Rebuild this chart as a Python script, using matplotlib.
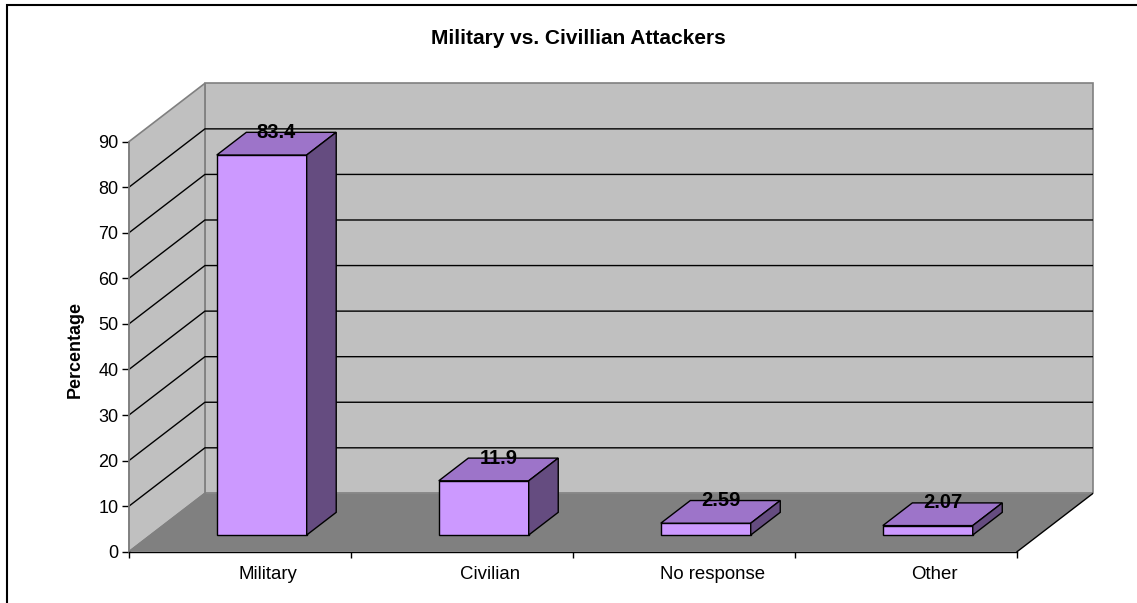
import matplotlib.pyplot as plt
from matplotlib.patches import Polygon, Rectangle

plt.rcParams['font.family'] = ['Liberation Sans', 'DejaVu Sans']

categories = ['Military', 'Civilian', 'No response', 'Other']
values = [83.4, 11.9, 2.59, 2.07]
value_labels = ['83.4', '11.9', '2.59', '2.07']
y_ticks = [0, 10, 20, 30, 40, 50, 60, 70, 80, 90]

# oblique depth of the 3-D box, in data units
DX = 0.342
DY = 12.8
YMAX = 90
BAR_W = 0.405
Z0, Z1 = 0.286, 0.675

FRONT = '#CC99FF'
TOP = '#9D74C9'
SIDE = '#654C80'
WALL = '#C0C0C0'
FLOOR = '#808080'
EDGE = '#808080'

W, H = 1137, 603
fig = plt.figure(figsize=(W / 100, H / 100), dpi=100)
ax = fig.add_axes([129 / W, (H - 551.7) / H, 964 / W, 468.4 / H])
ax.set_xlim(0, len(categories) + DX)
ax.set_ylim(0, YMAX + DY)
ax.patch.set_visible(False)

n = len(categories)


def poly(pts, fc, ec='none', lw=1.0, z=1):
    ax.add_patch(Polygon(pts, closed=True, facecolor=fc, edgecolor=ec,
                         linewidth=lw, zorder=z, clip_on=False))


# walls and floor
poly([(DX, DY), (n + DX, DY), (n + DX, YMAX + DY), (DX, YMAX + DY)], WALL, EDGE, 1.2, 1)
poly([(0, 0), (DX, DY), (DX, YMAX + DY), (0, YMAX)], WALL, EDGE, 1.2, 1)
for v in y_ticks[1:-1]:
    ax.plot([0, DX, n + DX], [v, v + DY, v + DY], color='black', lw=1.0, zorder=2)
poly([(0, 0), (n, 0), (n + DX, DY), (DX, DY)], FLOOR, 'none', 1, 3)
ax.plot([0, DX], [0, DY], color=EDGE, lw=1.2, zorder=3)
ax.plot([n, n + DX], [0, DY], color='black', lw=1.0, zorder=3)

# bars
for i, v in enumerate(values):
    x0 = i + 0.5 - BAR_W / 2
    x1 = i + 0.5 + BAR_W / 2
    a0, b0 = Z0 * DX, Z0 * DY
    a1, b1 = Z1 * DX, Z1 * DY
    poly([(x0 + a0, b0), (x1 + a0, b0), (x1 + a0, v + b0), (x0 + a0, v + b0)],
         FRONT, 'black', 1.0, 4)
    poly([(x0 + a0, v + b0), (x1 + a0, v + b0), (x1 + a1, v + b1), (x0 + a1, v + b1)],
         TOP, 'black', 1.0, 4)
    poly([(x1 + a0, b0), (x1 + a1, b1), (x1 + a1, v + b1), (x1 + a0, v + b0)],
         SIDE, 'black', 1.0, 4)
    ax.text(i + 0.5 + (Z0 + Z1) / 2 * DX, v + b1, value_labels[i],
            ha='center', va='center', fontsize=14.5, fontweight='bold', zorder=6)

# axes
for s in ['top', 'right']:
    ax.spines[s].set_visible(False)
ax.spines['left'].set_bounds(0, YMAX)
ax.spines['left'].set_color(EDGE)
ax.spines['left'].set_linewidth(1.2)
ax.spines['bottom'].set_bounds(0, n)
ax.spines['bottom'].set_linewidth(1.0)
ax.spines['left'].set_zorder(5)
ax.spines['bottom'].set_zorder(5)

ax.set_yticks(y_ticks)
ax.tick_params(axis='y', length=5, width=1, color='black', pad=2.5, labelsize=13)
ax.set_xticks(range(n + 1))
ax.set_xticklabels([])
ax.tick_params(axis='x', which='major', length=4.5, width=1, color='black', direction='out')
ax.set_xticks([i + 0.5 + 0.37 * DX for i in range(n)], minor=True)
ax.set_xticklabels(categories, minor=True)
ax.tick_params(axis='x', which='minor', length=0, pad=10, labelsize=13.4)

fig.text(75 / W, 1 - 349 / H, 'Percentage', rotation=90, ha='center', va='center',
         fontsize=12.9, fontweight='bold')
fig.text(578 / W, 1 - 38 / H, 'Military vs. Civillian Attackers', ha='center', va='center',
         fontsize=15, fontweight='bold')

# chart frame
fig.add_artist(Rectangle((7 / W, -0.1), 1.2, 1 - 5 / H + 0.1, transform=fig.transFigure,
                         facecolor='none', edgecolor='black', linewidth=1.5))

fig.savefig('out.png', dpi=100)
